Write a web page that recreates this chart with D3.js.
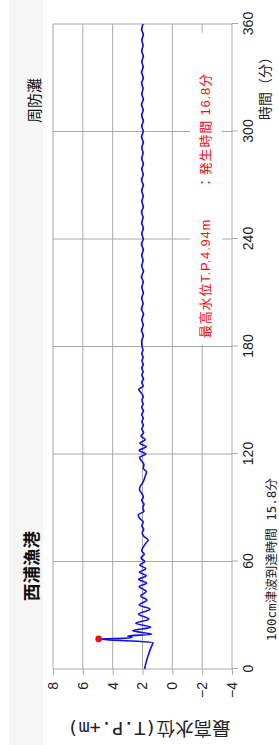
<!DOCTYPE html>
<html>
<head>
<meta charset="utf-8">
<script src="https://cdn.jsdelivr.net/npm/d3@7"></script>
<style>
  body { margin: 0; background: #fff; }
  svg { display: block; }
  text { font-family: "Liberation Sans", "Noto Sans CJK JP", sans-serif; }
  .mono { font-family: "DejaVu Sans Mono", "Noto Sans CJK JP", monospace; }
</style>
</head>
<body>
<div id="chart"></div>
<script>
// 西浦漁港 water level (T.P.+m) against time in minutes

const minutes = [
  0, 3, 6, 9, 12, 14.8, 16.8, 17.3, 17.8, 18.4, 19.4, 21.4, 23.3, 25.5, 27.8, 30.7, 33.3, 35.8, 38.5, 40.8, 43.2,
  46, 48, 50, 52, 54, 56, 58, 60, 62, 64, 66, 68, 70, 72, 74, 76, 78, 80, 82, 84, 86, 88, 90, 92, 94, 96, 98, 100,
  102, 104, 106, 108, 110, 112, 114, 116, 118, 120, 122, 124, 126, 128, 130, 132, 134, 136, 138, 140, 142, 144,
  146, 148, 150, 152, 154, 156, 158, 160, 162, 164, 166, 168, 170, 172, 174, 176, 178, 180,
  183, 186, 189, 192, 195, 198, 201, 204, 207, 210, 213, 216, 219, 222, 225, 228, 231, 234, 237, 240,
  243, 246, 249, 252, 255, 258, 261, 264, 267, 270, 273, 276, 279, 282, 285, 288, 291, 294, 297, 300,
  303, 306, 309, 312, 315, 318, 321, 324, 327, 330, 333, 336, 339, 342, 345, 348, 351, 354, 357, 360
];

const levels = [
  1.86, 1.78, 1.68, 1.56, 1.43, 1.30, 4.94, 2.95, 2.70, 3.00, 1.38, 2.65, 1.45, 2.45, 1.58, 2.27, 1.50, 2.22, 1.70, 2.12, 1.75,
  2.22, 1.72, 2.25, 1.75, 2.20, 1.78, 2.18, 1.85, 2.10, 1.88, 2.05, 1.95, 1.80, 1.62, 1.90, 2.02, 1.92, 2.05, 1.95, 2.18, 2.29, 1.90, 1.98, 1.90, 2.05, 1.95, 2.05, 2.20,
  2.15, 1.98, 1.88, 1.80, 1.73, 1.95, 1.90, 2.05, 2.20, 1.78, 2.22, 1.75, 2.18, 1.82, 2.10, 1.92, 2.05, 1.94, 2.04, 1.95, 2.06, 1.93,
  2.05, 1.96, 2.04, 1.95, 2.08, 2.25, 1.95, 2.05, 1.93, 2.04, 1.96, 2.05, 1.95, 2.04, 1.96, 2.05, 1.97, 2.03,
  2.06, 1.94, 2.07, 1.95, 2.05, 1.93, 2.07, 1.96, 2.06, 1.94, 2.05, 1.95, 2.07, 1.93, 2.06, 1.96, 2.05, 1.94, 2.07, 1.95,
  2.05, 1.94, 2.06, 1.96, 2.07, 1.94, 2.05, 1.95, 2.06, 1.94, 2.07, 1.95, 2.05, 1.94, 2.06, 1.96, 2.05, 1.94, 2.07, 1.95,
  2.05, 1.94, 2.06, 1.95, 2.07, 1.94, 2.05, 1.96, 2.06, 1.94, 2.07, 1.95, 2.05, 1.94, 2.06, 1.96, 2.05, 1.94, 2.06, 1.96
];

const timeTicks = [0, 60, 120, 180, 240, 300, 360];
const levelTicks = [8, 6, 4, 2, 0, -2, -4];
const peak = [16.8, 4.94];

const portName = "西浦漁港";
const seaName = "周防灘";
const arrivalNote = "100cm津波到達時間 15.8分";
const peakNote = ["最高水位T.P.4.94m", "：発生時間 16.8分"];
const timeTitle = "時間（分）";
const levelTitle = "最高水位(T.P.+m)";

const W = 279, H = 745;

const svg = d3.select("#chart").append("svg")
  .attr("width", W)
  .attr("height", H);

svg.append("rect").attr("width", W).attr("height", H).attr("fill", "#fff");
svg.append("rect").attr("x", 9).attr("width", 34).attr("height", H).attr("fill", "#f6f6f6");

// chart is laid out landscape (745 x 279) and turned a quarter to the left
const g = svg.append("g").attr("transform", `translate(0,${H}) rotate(-90)`);

const x = d3.scaleLinear().domain([0, 360]).range([76, 721]);
const y = d3.scaleLinear().domain([-4, 8]).range([232, 53]);

const gridColor = "#aaaaaa";

// grid
g.append("g").selectAll("line")
  .data(levelTicks)
  .enter()
  .append("line")
  .attr("x1", x(0)).attr("x2", x(360))
  .attr("y1", d => y(d)).attr("y2", d => y(d))
  .attr("stroke", gridColor);

g.append("g").selectAll("line")
  .data(timeTicks)
  .enter()
  .append("line")
  .attr("x1", d => x(d)).attr("x2", d => x(d))
  .attr("y1", y(8)).attr("y2", y(-4))
  .attr("stroke", gridColor);

// white box behind the peak note
g.append("rect")
  .attr("x", x(181)).attr("y", 190)
  .attr("width", x(355) - x(181)).attr("height", 32)
  .attr("fill", "#fff");

// axes
const xAxis = g.append("g")
  .attr("transform", `translate(0,${y(-4)})`)
  .call(d3.axisBottom(x).tickValues(timeTicks).tickSize(6).tickPadding(5));

const yAxis = g.append("g")
  .attr("transform", `translate(${x(0)},0)`)
  .call(d3.axisLeft(y).tickValues(levelTicks).tickSize(6).tickPadding(7));

[xAxis, yAxis].forEach(a => {
  a.attr("font-family", null).attr("font-size", null);
  a.select(".domain").remove();
  a.selectAll("line").attr("stroke", gridColor);
  a.selectAll("text")
    .attr("font-size", "14px")
    .attr("fill", "#222");
});

// series
const line = d3.line()
  .curve(d3.curveMonotoneX)
  .x(d => x(d[0]))
  .y(d => y(d[1]));

g.append("path")
  .datum(d3.zip(minutes, levels))
  .attr("d", line)
  .attr("fill", "none")
  .attr("stroke", "#1212e2")
  .attr("stroke-width", 1.6)
  .attr("stroke-linejoin", "round");

g.append("circle")
  .attr("cx", x(peak[0]))
  .attr("cy", y(peak[1]))
  .attr("r", 3.3)
  .attr("fill", "#ee1111");

// texts
g.append("text")
  .attr("x", 144).attr("y", 38)
  .attr("font-size", "17.5px")
  .attr("font-weight", "bold")
  .attr("fill", "#111")
  .text(portName);

g.append("text")
  .attr("x", 622).attr("y", 40)
  .attr("font-size", "15px")
  .attr("fill", "#111")
  .text(seaName);

g.append("text")
  .attr("x", 407).attr("y", 210)
  .attr("font-size", "13px")
  .attr("letter-spacing", "0.8px")
  .attr("fill", "#ee1111")
  .text(peakNote[0]);

g.append("text")
  .attr("x", 556).attr("y", 210)
  .attr("font-size", "13px")
  .attr("letter-spacing", "0.8px")
  .attr("fill", "#ee1111")
  .text(peakNote[1]);

g.append("text")
  .attr("class", "mono")
  .attr("x", 104).attr("y", 276)
  .attr("font-size", "12.5px")
  .attr("fill", "#222")
  .text(arrivalNote);

g.append("text")
  .attr("x", 695).attr("y", 270)
  .attr("text-anchor", "end")
  .attr("font-size", "14px")
  .attr("fill", "#222")
  .text(timeTitle);

g.append("text")
  .attr("class", "mono")
  .attr("transform", "translate(23,149) rotate(-90)")
  .attr("text-anchor", "middle")
  .attr("font-size", "18.5px")
  .attr("fill", "#222")
  .text(levelTitle);
</script>
</body>
</html>
